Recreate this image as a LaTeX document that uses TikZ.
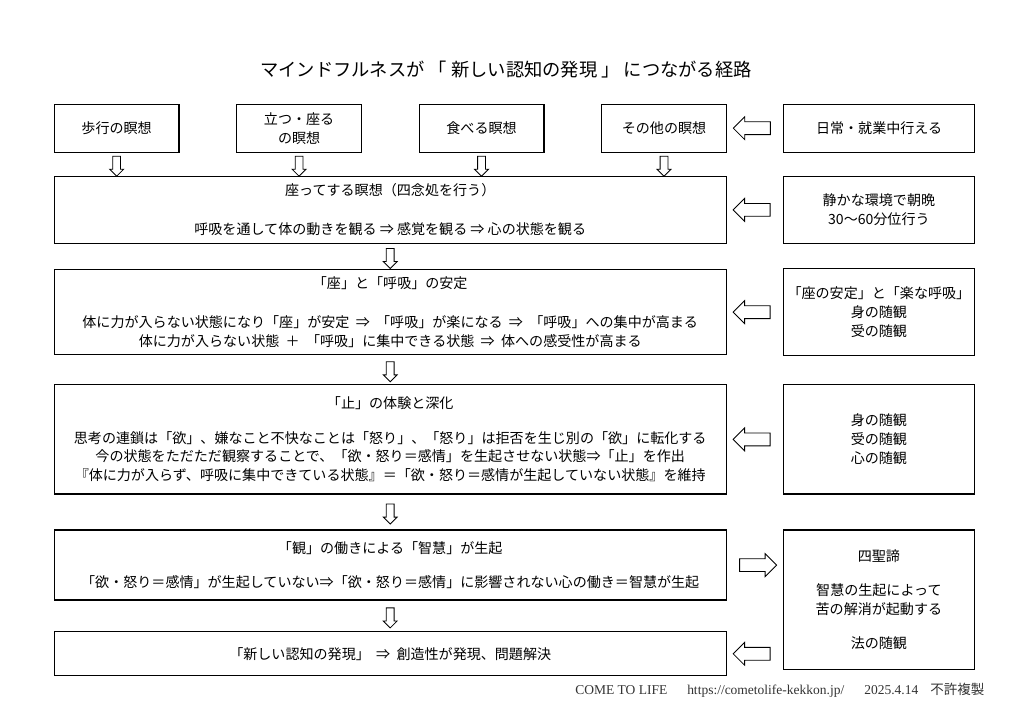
\documentclass[tikz,border=0pt]{standalone}
\usepackage{fontspec}
\setmainfont{Noto Sans CJK JP}
\newfontfamily\footserif{Liberation Serif}
\usetikzlibrary{positioning,shapes.arrows,calc}

\begin{document}
\begin{tikzpicture}[shape=rectangle,
box/.style={draw, line width=0.9pt, align=center, inner sep=2pt,
font=\fontsize{10pt}{13.5pt}\selectfont},
topbox/.style={box, minimum width=3.12cm, minimum height=1.2cm},
mainbox/.style={box, minimum width=16.8cm},
sidebox/.style={box, minimum width=4.77cm},
blockarrow/.style={draw, single arrow, line width=0.6pt,
single arrow tip angle=90},
downarrow/.style={blockarrow, shape border rotate=270, inner sep=0.0875cm,
minimum height=0.5cm, minimum width=0.325cm, single arrow head extend=0.075cm},
sidearrow/.style={blockarrow, inner sep=0.15cm, minimum height=0.925cm,
minimum width=0.55cm, single arrow head extend=0.125cm}]

\useasboundingbox (0,0) rectangle (25.6,-18.1);

\node (title) at (12.65,-1.75) [font=\fontsize{13pt}{15pt}\selectfont]
{マインドフルネスが 「 新しい認知の発現 」 につながる経路};

\node (walk) [topbox, anchor=north west] at (1.34,-2.59) {歩行の瞑想};
\node (stand) [topbox, right=1.41cm of walk] {立つ・座る\\の瞑想};
\node (eat) [topbox, right=1.41cm of stand] {食べる瞑想};
\node (other) [topbox, right=1.41cm of eat] {その他の瞑想};
\node (daily) [sidebox, minimum height=1.2cm, right=1.4cm of other]
{日常・就業中行える};

\node (sitting) [mainbox, minimum height=1.68cm, below=0.57cm of walk.south west,
anchor=north west]
{座ってする瞑想（四念処を行う）\\[14pt]
呼吸を通して体の動きを観る ⇒ 感覚を観る ⇒ 心の状態を観る};
\node (quiet) [sidebox, minimum height=1.68cm, right=1.4cm of sitting]
{静かな環境で朝晩\\30～60分位行う};

\node (stable) [mainbox, minimum height=2.13cm, below=0.62cm of sitting]
{「座」と「呼吸」の安定\\[14pt]
体に力が入らない状態になり「座」が安定 ~⇒~ 「呼吸」が楽になる ~⇒~ 「呼吸」への集中が高まる\\
体に力が入らない状態 ~＋~ 「呼吸」に集中できる状態 ~⇒~ 体への感受性が高まる};
\node (bodyfeel) [sidebox, minimum height=2.18cm, right=1.4cm of stable]
{「座の安定」と「楽な呼吸」\\身の随観\\受の随観};

\node (stop) [mainbox, minimum height=2.73cm, below=0.72cm of stable]
{「止」の体験と深化\\[11pt]
思考の連鎖は「欲」、嫌なこと不快なことは「怒り」、「怒り」は拒否を生じ別の「欲」に転化する\\
今の状態をただただ観察することで、「欲・怒り＝感情」を生起させない状態⇒「止」を作出\\
『体に力が入らず、呼吸に集中できている状態』＝「欲・怒り＝感情が生起していない状態』を維持};
\node (threefold) [sidebox, minimum height=2.73cm, right=1.4cm of stop]
{身の随観\\受の随観\\心の随観};

\node (wisdom) [mainbox, minimum height=1.75cm, below=0.87cm of stop]
{「観」の働きによる「智慧」が生起\\[11pt]
「欲・怒り＝感情」が生起していない⇒「欲・怒り＝感情」に影響されない心の働き＝智慧が生起};
\node (truths) [sidebox, minimum height=3.48cm, right=1.4cm of wisdom.north east,
anchor=north west]
{四聖諦\\[11pt]智慧の生起によって\\苦の解消が起動する\\[11pt]法の随観};

\node (insight) [mainbox, minimum height=1.1cm, below=0.76cm of wisdom]
{「新しい認知の発現」 ~⇒~ 創造性が発現、問題解決};

\node (footer) [anchor=west, text=black!80, inner sep=0pt,
font=\footserif\fontsize{9.6pt}{11pt}\selectfont] at (14.375,-17.25)
{COME TO LIFE\hspace{0.5cm}https://cometolife-kekkon.jp/\hspace{0.5cm}2025.4.14\hspace{0.3cm}{\rmfamily 不許複製}};

\foreach \src in {walk,stand,eat,other}
\node [downarrow] at ($(\src.south)!0.5!(\src.south |- sitting.north)$) {};
\node [downarrow] at ($(sitting.south)!0.5!(stable.north)$) {};
\node [downarrow] at ($(stable.south)!0.5!(stop.north)$) {};
\node [downarrow] at ($(stop.south)!0.5!(wisdom.north)$) {};
\node [downarrow] at ($(wisdom.south)!0.5!(insight.north)$) {};

\node [sidearrow, shape border rotate=180] at ($(other.east)!0.5!(daily.west)$) {};
\node [sidearrow, shape border rotate=180] at ($(sitting.east)!0.5!(quiet.west)$) {};
\node [sidearrow, shape border rotate=180] at ($(stable.east)!0.5!(stable.east -| bodyfeel.west)$) {};
\node [sidearrow, shape border rotate=180] at ($(stop.east)!0.5!(threefold.west)$) {};
\node [sidearrow] at ($(wisdom.east)!0.5!(wisdom.east -| truths.west)$) {};
\node [sidearrow, shape border rotate=180] at ($(insight.east)!0.5!(insight.east -| truths.west)$) {};
\end{tikzpicture}
\end{document}
